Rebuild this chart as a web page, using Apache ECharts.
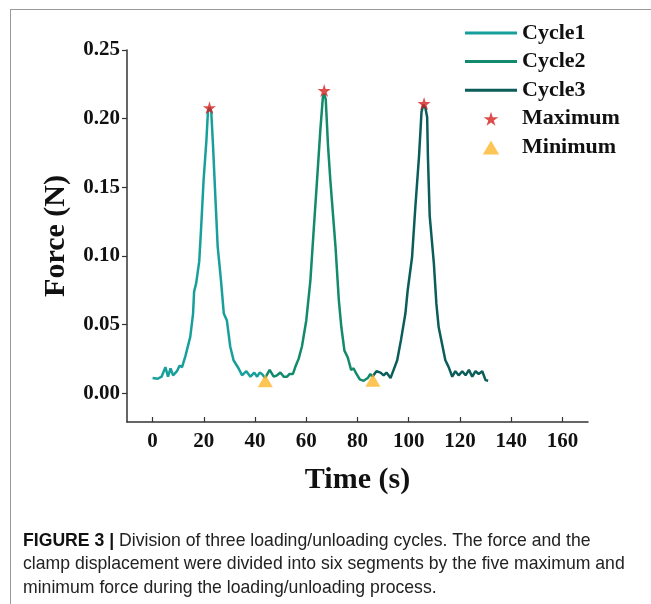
<!DOCTYPE html>
<html>
<head>
<meta charset="utf-8">
<script src="https://cdn.jsdelivr.net/npm/echarts@6/dist/echarts.min.js"></script>
<style>
  html, body { margin: 0; padding: 0; background: #fff; }
  #frame { position: absolute; left: 10px; top: 9px; width: 641px; height: 595px;
           border-left: 1px solid #9a9a9a; border-top: 1px solid #9a9a9a; }
  #chart { position: absolute; left: 0; top: 0; width: 651px; height: 604px; }
</style>
</head>
<body>
<div id="frame"></div>
<div id="chart"></div>
<script>
// time (s) / force (N), one pair of arrays per cycle
var cycle1Time = [0, 2, 3.5, 5, 6, 7, 8, 9.5, 10.5, 11.5, 12.8, 14.7, 15.8, 16.2, 17, 18.2, 18.9, 19.9, 21, 21.6, 22.2, 22.9, 23.6, 24.5, 25.4, 26.7, 27.8, 29, 30.3, 31.6, 33.6, 34.9, 36.6, 38.2, 39.7, 40.8, 41.8, 42.7, 43.9];
var cycle1Force = [0.011, 0.0105, 0.012, 0.019, 0.012, 0.018, 0.013, 0.016, 0.020, 0.019, 0.027, 0.041, 0.058, 0.074, 0.080, 0.096, 0.119, 0.155, 0.184, 0.205, 0.208, 0.205, 0.180, 0.143, 0.107, 0.082, 0.058, 0.053, 0.034, 0.024, 0.018, 0.013, 0.016, 0.012, 0.015, 0.012, 0.015, 0.014, 0.011];

var cycle2Time = [43.9, 45.7, 47.3, 48.6, 49.9, 51.2, 52.5, 53.5, 54.8, 55.7, 57, 58.3, 60, 61.6, 62.9, 64.2, 65.5, 66.5, 67, 67.6, 68.5, 69.4, 71.4, 72.7, 73.7, 74.9, 76.2, 77.5, 78.5, 79.6, 80.9, 82.4, 84, 85, 85.8];
var cycle2Force = [0.011, 0.017, 0.012, 0.013, 0.015, 0.012, 0.012, 0.014, 0.014, 0.019, 0.025, 0.034, 0.053, 0.082, 0.119, 0.155, 0.192, 0.216, 0.218, 0.214, 0.180, 0.155, 0.107, 0.068, 0.048, 0.031, 0.026, 0.017, 0.018, 0.014, 0.010, 0.009, 0.011, 0.014, 0.012];

var cycle3Time = [85.8, 87.4, 89, 90.2, 91.3, 92.9, 94.1, 95.5, 97, 98.7, 99.6, 101.3, 102.6, 104, 105, 105.7, 106.5, 107.2, 107.5, 108.2, 109.8, 110.8, 111.7, 113, 114.3, 115.6, 117, 118.2, 119.5, 120.9, 122.2, 123.5, 124.8, 126.1, 127.3, 128.7, 130, 131];
var cycle3Force = [0.012, 0.016, 0.015, 0.013, 0.015, 0.011, 0.017, 0.024, 0.039, 0.058, 0.075, 0.099, 0.136, 0.172, 0.205, 0.210, 0.208, 0.201, 0.172, 0.129, 0.095, 0.065, 0.048, 0.036, 0.024, 0.019, 0.012, 0.016, 0.013, 0.016, 0.013, 0.017, 0.012, 0.016, 0.014, 0.016, 0.0095, 0.009];

var maxTime = [22.2, 67, 106];
var maxForce = [0.208, 0.2205, 0.211];
var minTime = [44, 86];
var minForce = [0.009, 0.0095];

var xTicks = [0, 20, 40, 60, 80, 100, 120, 140, 160];
var yTicks = [0, 0.05, 0.10, 0.15, 0.20, 0.25];

var captionLines = [
  ['FIGURE 3 | ', 'Division of three loading/unloading cycles. The force and the'],
  ['', 'clamp displacement were divided into six segments by the five maximum and'],
  ['', 'minimum force during the loading/unloading process.']
];

function pairs(xs, ys) {
  var out = [];
  for (var i = 0; i < xs.length; i++) out.push([xs[i], ys[i]]);
  return out;
}

var STAR = 'path://M50,0 L61,35 L98,35 L68,57 L79,91 L50,70 L21,91 L32,57 L2,35 L39,35 Z';
var TRI = 'path://M50,0 L100,86 L0,86 Z';
var LINE = 'path://M0,0 L52,0 L52,3 L0,3 Z';
var SERIF = '"Liberation Serif", "Times New Roman", serif';
var CAPFONT = '"Liberation Sans", Arial, sans-serif';

var chart = echarts.init(document.getElementById('chart'), null, { renderer: 'canvas' });

// caption under the plot, squeezed a little to mimic the condensed face
var caption = captionLines.map(function (ln, i) {
  return {
    type: 'text', x: 23, y: 531 + i * 23.5, scaleX: 0.928,
    style: {
      text: (ln[0] ? '{b|' + ln[0] + '}' : '') + '{r|' + ln[1] + '}',
      rich: {
        b: { fontFamily: CAPFONT, fontWeight: 'bold', fontSize: 19, fill: '#111' },
        r: { fontFamily: CAPFONT, fontSize: 19, fill: '#222' }
      }
    }
  };
});

var option = {
  animation: false,
  backgroundColor: 'transparent',
  grid: { left: 127, top: 50, width: 461, height: 372, containLabel: false },
  legend: {
    orient: 'vertical', left: 465, top: 22, padding: 0,
    itemWidth: 52, itemHeight: 14, itemGap: 6.6,
    textStyle: { fontFamily: SERIF, fontWeight: 'bold', fontSize: 22, color: '#111', lineHeight: 20 },
    data: [
      { name: 'Cycle1', icon: LINE },
      { name: 'Cycle2', icon: LINE },
      { name: 'Cycle3', icon: LINE },
      { name: 'Maximum', icon: STAR },
      { name: 'Minimum', icon: TRI }
    ]
  },
  xAxis: {
    type: 'value', min: -10, max: 170,
    name: 'Time (s)', nameLocation: 'middle', nameGap: 43,
    nameTextStyle: { fontFamily: SERIF, fontWeight: 'bold', fontSize: 30, color: '#111' },
    axisLine: { show: true, onZero: false, lineStyle: { color: '#333', width: 1.5 } },
    axisTick: { show: true, inside: true, length: 5, customValues: xTicks, lineStyle: { color: '#333', width: 1.2 } },
    axisLabel: { customValues: xTicks, margin: 9, fontFamily: SERIF, fontWeight: 'bold', fontSize: 21, color: '#111' },
    splitLine: { show: false }
  },
  yAxis: {
    type: 'value', min: -0.021, max: 0.25,
    name: 'Force (N)', nameLocation: 'middle', nameGap: 56, nameRotate: 90,
    nameTextStyle: { fontFamily: SERIF, fontWeight: 'bold', fontSize: 30, color: '#111' },
    axisLine: { show: true, onZero: false, lineStyle: { color: '#333', width: 1.5 } },
    axisTick: { show: true, inside: false, length: 5, customValues: yTicks, lineStyle: { color: '#333', width: 1.2 } },
    axisLabel: {
      customValues: yTicks, margin: 7, fontFamily: SERIF, fontWeight: 'bold', fontSize: 21, color: '#111',
      formatter: function (v) { return v.toFixed(2); }
    },
    splitLine: { show: false }
  },
  graphic: caption,
  series: [
    { name: 'Cycle1', type: 'line', data: pairs(cycle1Time, cycle1Force), symbol: 'none',
      lineStyle: { color: '#17a09b', width: 2.5 }, itemStyle: { color: '#17a09b' } },
    { name: 'Cycle2', type: 'line', data: pairs(cycle2Time, cycle2Force), symbol: 'none',
      lineStyle: { color: '#138a6c', width: 2.5 }, itemStyle: { color: '#138a6c' } },
    { name: 'Cycle3', type: 'line', data: pairs(cycle3Time, cycle3Force), symbol: 'none',
      lineStyle: { color: '#0b5d5a', width: 2.5 }, itemStyle: { color: '#0b5d5a' } },
    { name: 'Maximum', type: 'scatter', data: pairs(maxTime, maxForce), symbol: STAR, symbolSize: 13,
      itemStyle: { color: '#d61f1f' }, z: 5 },
    { name: 'Minimum', type: 'scatter', data: pairs(minTime, minForce), symbol: TRI, symbolSize: [15, 13],
      itemStyle: { color: '#fbb62a' }, z: 5 }
  ]
};

chart.setOption(option);
</script>
</body>
</html>
